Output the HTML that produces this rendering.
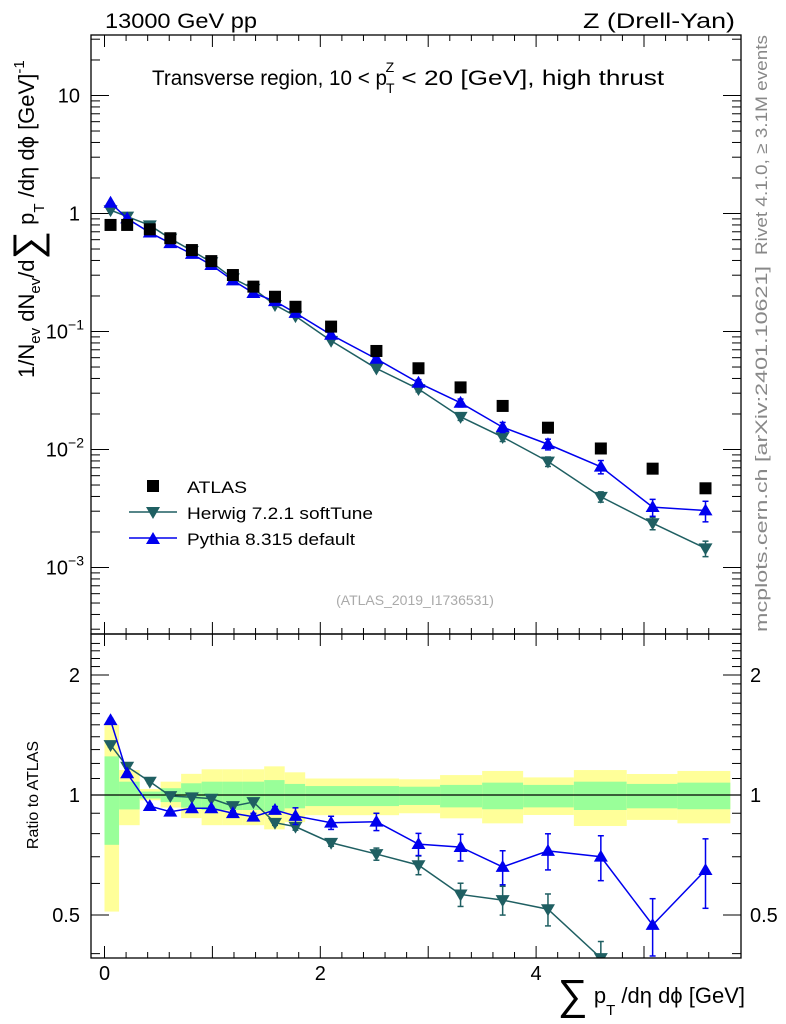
<!DOCTYPE html>
<html><head><meta charset="utf-8"><style>
body{margin:0;background:#fff;}
svg{display:block;font-family:"Liberation Sans",Arial,sans-serif;}
</style></head><body>
<svg id="chart" width="786" height="1024" viewBox="0 0 786 1024" xmlns="http://www.w3.org/2000/svg">
<g id="bands"></g>
<g id="grid"></g>
<g id="marks"></g>
<rect x="91" y="35" width="650" height="599" fill="none" stroke="#000" stroke-width="1.3"/>
<rect x="91" y="634" width="650" height="324" fill="none" stroke="#000" stroke-width="1.3"/>
<text x="105" y="28" font-size="21" textLength="152" lengthAdjust="spacingAndGlyphs">13000 GeV pp</text>
<text x="583" y="28" font-size="21" textLength="152" lengthAdjust="spacingAndGlyphs">Z (Drell-Yan)</text>
<text x="152" y="85" font-size="21"><tspan textLength="235" lengthAdjust="spacingAndGlyphs">Transverse region, 10 &lt; p</tspan><tspan font-size="14" dy="8" dx="-1">T</tspan><tspan font-size="14" dy="-21" dx="-9">Z</tspan><tspan dy="13" textLength="270" lengthAdjust="spacingAndGlyphs"> &lt; 20 [GeV], high thrust</tspan></text>
<text x="415" y="605" font-size="14" fill="#aaa" text-anchor="middle">(ATLAS_2019_I1736531)</text>
<text transform="translate(767,255) rotate(-90)" font-size="17" fill="#888" textLength="220" lengthAdjust="spacingAndGlyphs">Rivet 4.1.0, ≥ 3.1M events</text>
<text transform="translate(767,632) rotate(-90)" font-size="17" fill="#888" textLength="366" lengthAdjust="spacingAndGlyphs">mcplots.cern.ch [arXiv:2401.10621]</text>
<text transform="translate(34,378) rotate(-90)" font-size="22">1/N<tspan font-size="15" dy="6">ev</tspan><tspan dy="-6"> dN</tspan><tspan font-size="15" dy="6">ev</tspan><tspan dy="-6">/d</tspan><tspan font-size="40" dy="7">∑</tspan><tspan dy="-7"> p</tspan><tspan font-size="15" dy="10">T</tspan><tspan dy="-10"> /dη dϕ  [GeV]</tspan><tspan font-size="15" dy="-10">-1</tspan></text>
<text transform="translate(38,795) rotate(-90)" font-size="16" text-anchor="middle">Ratio to ATLAS</text>
<text x="745" y="1003" font-size="22" text-anchor="end"><tspan font-size="42" dy="6">∑</tspan><tspan dy="-6"> p</tspan><tspan font-size="15" dy="12">T</tspan><tspan dy="-12"> /dη dϕ [GeV]</tspan></text>
<g>
<rect x="147" y="480" width="12" height="12" fill="#000"/>
<text x="187" y="493" font-size="17" textLength="60" lengthAdjust="spacingAndGlyphs">ATLAS</text>
<line x1="129" y1="512" x2="177" y2="512" stroke="#1f5f62" stroke-width="1.5"/>
<path d="M146,507 L160,507 L153,519 Z" fill="#1f5f62"/>
<text x="187" y="519" font-size="17" textLength="186" lengthAdjust="spacingAndGlyphs">Herwig 7.2.1 softTune</text>
<line x1="129" y1="538" x2="177" y2="538" stroke="#0000ee" stroke-width="1.5"/>
<path d="M146,544 L160,544 L153,532 Z" fill="#0000ee"/>
<text x="187" y="545" font-size="17" textLength="168" lengthAdjust="spacingAndGlyphs">Pythia 8.315 default</text>
</g>
</svg>
<script>
const xCenters=[0.056,0.21,0.42,0.61,0.81,0.99,1.19,1.38,1.58,1.77,2.1,2.52,2.91,3.3,3.69,4.11,4.6,5.08,5.57];
const binEdges=[0,0.135,0.326,0.52,0.71,0.9,1.09,1.28,1.48,1.67,1.86,2.34,2.73,3.11,3.5,3.88,4.35,4.84,5.31,5.8];
const atlasValues=[0.80,0.80,0.735,0.617,0.49,0.395,0.301,0.24,0.197,0.162,0.11,0.0684,0.0488,0.0336,0.0234,0.0153,0.0102,0.00688,0.00469];
const herwigRatio=[1.335,1.178,1.08,0.994,0.987,0.979,0.938,0.96,0.852,0.833,0.759,0.711,0.667,0.563,0.545,0.517,0.39,0.345,0.31];
const pythiaRatio=[1.54,1.133,0.938,0.908,0.926,0.926,0.9,0.882,0.917,0.886,0.852,0.857,0.753,0.74,0.66,0.724,0.7,0.472,0.648];
const herwigErr=[0.01,0.01,0.01,0.01,0.01,0.01,0.01,0.01,0.015,0.02,0.02,0.035,0.054,0.067,0.083,0.092,0.1,0.12,0.15];
const pythiaErr=[0.01,0.01,0.01,0.01,0.01,0.01,0.015,0.02,0.02,0.048,0.038,0.05,0.064,0.077,0.098,0.104,0.129,0.164,0.198];
const yellowHi=[1.5,1.155,1.035,1.08,1.13,1.16,1.16,1.16,1.18,1.14,1.1,1.1,1.095,1.122,1.149,1.107,1.155,1.129,1.149];
const yellowLo=[0.51,0.84,0.97,0.93,0.875,0.84,0.84,0.84,0.82,0.855,0.89,0.89,0.9,0.874,0.849,0.891,0.836,0.866,0.849];
const greenHi=[1.25,1.08,1.02,1.04,1.07,1.08,1.08,1.08,1.09,1.066,1.053,1.053,1.049,1.06,1.074,1.06,1.08,1.066,1.074];
const greenLo=[0.75,0.92,0.98,0.96,0.93,0.917,0.917,0.917,0.91,0.926,0.938,0.938,0.944,0.931,0.921,0.931,0.917,0.926,0.921];
const xTicks=[0,2,4];
const mainTicks=[["10",1],["1",0],["10","-1"],["10","-2"],["10","-3"]];
const ratioTicks=["2","1","0.5"];

const NS="http://www.w3.org/2000/svg";
const X=v=>104.5+v*107.9;
const Ym=v=>213.5-118*Math.log10(v);
const Yr=v=>795-120*Math.log2(v);
function el(tag,attrs,parent){const e=document.createElementNS(NS,tag);for(const k in attrs)e.setAttribute(k,attrs[k]);parent.appendChild(e);return e;}
const bands=document.getElementById('bands'),grid=document.getElementById('grid'),marks=document.getElementById('marks');
const clipR=el('clipPath',{id:'cr'},document.getElementById('chart'));el('rect',{x:91,y:634,width:650,height:324},clipR);
const clipM=el('clipPath',{id:'cm'},document.getElementById('chart'));el('rect',{x:91,y:35,width:650,height:599},clipM);
bands.setAttribute('clip-path','url(#cr)');
for(let i=0;i<xCenters.length;i++){
 const x0=X(binEdges[i]),x1=X(binEdges[i+1]);
 const y=el('rect',{x:x0,y:Yr(yellowHi[i]),width:x1-x0,height:Yr(yellowLo[i])-Yr(yellowHi[i]),fill:'#ffff99'},bands);
 
 
 const g=el('rect',{x:x0,y:Yr(greenHi[i]),width:x1-x0,height:Yr(greenLo[i])-Yr(greenHi[i]),fill:'#99ff99'},bands);
 
 
}
el('line',{x1:91,x2:741,y1:Yr(1),y2:Yr(1),stroke:'#000','stroke-width':1.3},grid);
for(let v=0;v<=5.8;v+=0.2){const vv=Math.round(v*10)/10;const major=Math.abs(vv-Math.round(vv))<1e-6;
 const L=major?12:6;
 for(const yb of [634,958]){el('line',{x1:X(vv),x2:X(vv),y1:yb,y2:yb-L,stroke:'#000'},grid);}
 for(const yt of [35,634]){el('line',{x1:X(vv),x2:X(vv),y1:yt,y2:yt+L,stroke:'#000'},grid);}
}
xTicks.forEach(t=>{const tx=el('text',{x:X(t),y:980,'font-size':20,'text-anchor':'middle'},grid);tx.textContent=t;
 
 });
for(let d=-4;d<=1;d++){for(let m=1;m<10;m++){const v=m*Math.pow(10,d);const y=Ym(v);if(y<35||y>634)continue;const L=m==1?18:9;
 el('line',{x1:91,x2:91+L,y1:y,y2:y,stroke:'#000'},grid);el('line',{x1:741,x2:741-L,y1:y,y2:y,stroke:'#000'},grid);}}
mainTicks.forEach(t=>{const exp=t[1];const v=Math.pow(10,Number(exp));const tx=el('text',{x:80,y:Ym(v)+7,'font-size':20,'text-anchor':'end'},grid);
 
 
 if(exp===1||exp===0){tx.textContent=t[0];}else{tx.textContent=t[0];const s=el('tspan',{'font-size':14,dy:-9},tx);s.textContent='−'+String(exp).slice(1);tx.setAttribute('x',84);}
});
for(let v=0.4;v<=2.5;v+=0.1){const y=Yr(v);if(y<634||y>958)continue;const vr=Math.round(v*10)/10;const major=(vr==0.5||vr==1||vr==2);const L=major?18:9;
 el('line',{x1:91,x2:91+L,y1:y,y2:y,stroke:'#000'},grid);el('line',{x1:741,x2:741-L,y1:y,y2:y,stroke:'#000'},grid);}
ratioTicks.forEach(t=>{for(const side of [0,1]){const tx=el('text',{x:side?750:80,y:Yr(Number(t))+7,'font-size':20,'text-anchor':side?'start':'end'},grid);tx.textContent=t;
 
 }});
function tri(x,y,down,color,g,name){const s=7;const d=down?`M${x-s},${y-s*0.7} L${x+s},${y-s*0.7} L${x},${y+s*1.0} Z`:`M${x-s},${y+s*0.7} L${x+s},${y+s*0.7} L${x},${y-s*1.0} Z`;
 const p=el('path',{d:d,fill:color},g);}
function series(ratio,err,color,down,name){
 const gm=el('g',{'clip-path':'url(#cm)'},marks);const gr=el('g',{'clip-path':'url(#cr)'},marks);
 
 
 
 
 const pm=xCenters.map((x,i)=>[X(x),Ym(atlasValues[i]*ratio[i])]);
 const pr=xCenters.map((x,i)=>[X(x),Yr(ratio[i])]);
 el('polyline',{points:pm.map(p=>p.join(',')).join(' '),fill:'none',stroke:color,'stroke-width':1.5},gm);
 el('polyline',{points:pr.map(p=>p.join(',')).join(' '),fill:'none',stroke:color,'stroke-width':1.5},gr);
 xCenters.forEach((x,i)=>{const v=atlasValues[i]*ratio[i],e=err[i];
  const xx=X(x);
  [[gm,Ym(v*(1+e)),Ym(v*(1-e))],[gr,Yr(ratio[i]*(1+e)),Yr(ratio[i]*(1-e))]].forEach(([g,a,b])=>{
   el('line',{x1:xx,x2:xx,y1:a,y2:b,stroke:color,'stroke-width':1.5},g);
   el('line',{x1:xx-3,x2:xx+3,y1:a,y2:a,stroke:color,'stroke-width':1.5},g);
   el('line',{x1:xx-3,x2:xx+3,y1:b,y2:b,stroke:color,'stroke-width':1.5},g);});
  tri(xx,pm[i][1],down,color,gm,name+'-point');
  tri(xx,pr[i][1],down,color,gr,name+'-ratio-point');
 });
}
series(herwigRatio,herwigErr,'#1f5f62',true,'herwig');
series(pythiaRatio,pythiaErr,'#0000ee',false,'pythia');
xCenters.forEach((x,i)=>{const r=el('rect',{x:X(x)-6,y:Ym(atlasValues[i])-6,width:12,height:12,fill:'#000'},marks);
 
 });
</script>
</body></html>
